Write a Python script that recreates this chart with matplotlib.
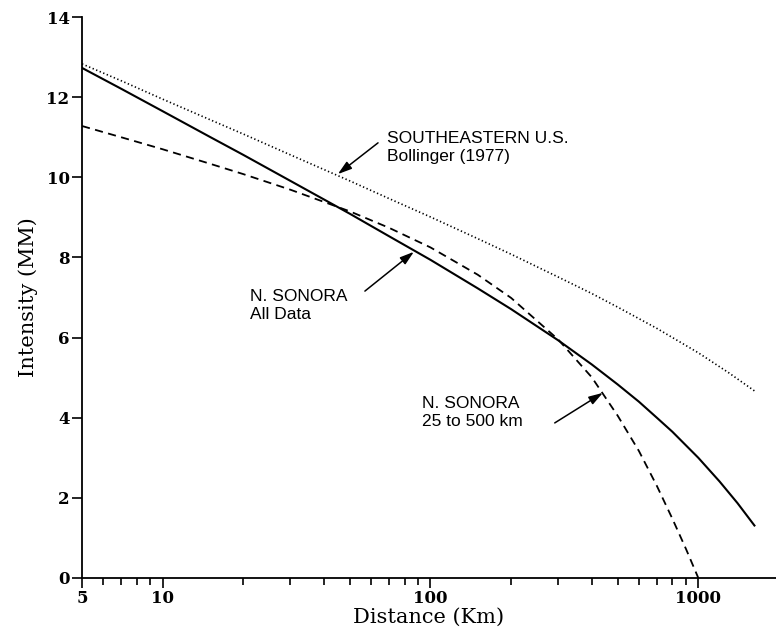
import numpy as np
import matplotlib
matplotlib.use("Agg")
import matplotlib.pyplot as plt
from matplotlib.ticker import FixedLocator, NullFormatter

# === curves (distance in km, intensity MM) ===
all_dist = [5, 7, 10, 15, 20, 30, 50, 70, 100, 150, 200, 300, 400, 500,
            600, 700, 800, 1000, 1200, 1400, 1620]
all_int = [12.73, 12.21, 11.65, 11.01, 10.56, 9.91, 9.09, 8.53, 7.94, 7.23,
           6.71, 5.93, 5.33, 4.83, 4.40, 4.00, 3.65, 3.00, 2.41, 1.87, 1.31]

sub_dist = [5, 7, 10, 15, 20, 30, 50, 70, 100, 150, 200, 300, 400, 500,
            600, 700, 800, 900, 1000]
sub_int = [11.28, 11.00, 10.70, 10.34, 10.08, 9.69, 9.15, 8.74, 8.25, 7.57,
           6.99, 5.95, 5.01, 4.05, 3.17, 2.30, 1.48, 0.72, 0.00]

se_dist = [5, 7, 10, 15, 20, 30, 50, 70, 100, 150, 200, 300, 400, 500,
           700, 1000, 1300, 1620]
se_int = [12.83, 12.41, 11.95, 11.44, 11.08, 10.56, 9.91, 9.47, 9.01, 8.47,
          8.08, 7.51, 7.10, 6.76, 6.23, 5.62, 5.12, 4.67]

major_ticks = [5, 10, 100, 1000]
major_labels = ["5", "10", "100", "1000"]
y_ticks = [0, 2, 4, 6, 8, 10, 12, 14]

# labels: (text, text pos, arrow tail, arrow tip)
notes = [
    ("SOUTHEASTERN U.S.\nBollinger (1977)", (68.7, 11.15), (63.7, 10.86), (45.1, 10.08)),
    ("N. SONORA\nAll Data", (21.2, 7.22), (56.9, 7.16), (86.7, 8.14)),
    ("N. SONORA\n25 to 500 km", (92.9, 4.55), (291, 3.87), (440, 4.62)),
]

fig = plt.figure(figsize=(7.76, 6.33), dpi=100)
ax = fig.add_axes([0.1057, 0.0869, 0.8943, 0.8862])

ax.plot(all_dist, all_int, color="black", lw=1.5, ls="-")
ax.plot(sub_dist, sub_int, color="black", lw=1.3, ls=(0, (4.5, 3)))
ax.plot(se_dist, se_int, color="black", lw=1.2, ls=(0, (0.8, 1.5)))

ax.set_xscale("log")
ax.set_xlim(5, 1950)
ax.set_ylim(0, 14)

ax.xaxis.set_major_locator(FixedLocator(major_ticks))
ax.set_xticklabels(major_labels)
minor = [v * d for d in (1, 10, 100) for v in range(2, 10) if 5 < v * d < 1950 and v * d not in major_ticks]
ax.xaxis.set_minor_locator(FixedLocator(minor))
ax.xaxis.set_minor_formatter(NullFormatter())
ax.set_yticks(y_ticks)

ax.spines["top"].set_visible(False)
ax.spines["right"].set_visible(False)
for s in ("left", "bottom"):
    ax.spines[s].set_linewidth(1.3)

ax.tick_params(axis="both", which="major", direction="out", length=7, width=1.2,
               pad=2)
ax.tick_params(axis="x", which="minor", direction="out", length=5, width=1.2)
for lab in ax.get_xticklabels() + ax.get_yticklabels():
    lab.set_fontfamily("DejaVu Serif")
    lab.set_fontweight("bold")
    lab.set_fontsize(12)

ax.set_xlabel("Distance (Km)", fontfamily="DejaVu Serif", fontsize=15, labelpad=0)
ax.set_ylabel("Intensity (MM)", fontfamily="DejaVu Serif", fontsize=15, labelpad=6)

for txt, pos, tail, tip in notes:
    ax.text(pos[0], pos[1], txt, fontfamily="Liberation Sans", fontsize=12.5,
            ha="left", va="top", linespacing=1.25)
    ax.annotate("", xy=tip, xytext=tail,
                arrowprops=dict(arrowstyle="-|>,head_length=0.7,head_width=0.22",
                                color="black", lw=1.1,
                                mutation_scale=12, shrinkA=0, shrinkB=0))

plt.savefig("out.png", dpi=100)
